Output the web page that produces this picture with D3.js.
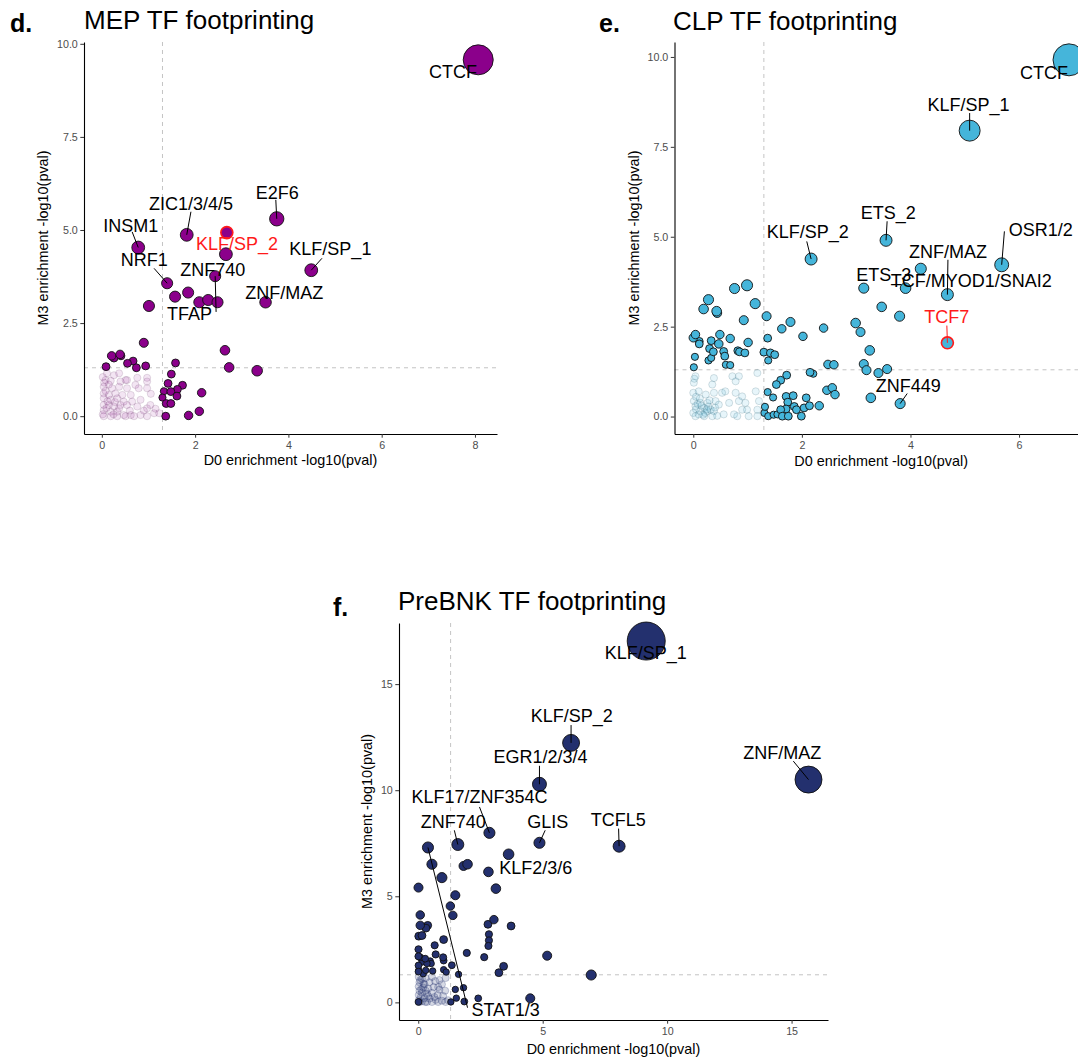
<!DOCTYPE html>
<html><head><meta charset="utf-8">
<script src="https://cdn.jsdelivr.net/npm/d3@7"></script>
<style>
body{margin:0;background:#fff;}
text{font-family:"Liberation Sans", Arial, Helvetica, sans-serif;}
</style>
</head><body>
<svg id="c" width="1078" height="1059"></svg>
<script>
// ---------------- DATA ----------------
const sigThreshold = 1.3;          // -log10(0.05)
const fadedScore = 5;

// MEP: [D0 -log10(p), M3 -log10(p), score]
const mepPoints = [
[8.07,9.57,88],[3.75,5.30,20],[1.82,4.87,16],[2.68,4.93,14],[2.66,4.35,16],[0.78,4.53,16],[4.49,3.92,16],[1.40,3.57,12],[2.43,3.76,12],[1.57,3.21,12],[1.85,3.32,12],[2.09,3.06,12],[2.28,3.12,12],[2.48,3.06,12],[3.51,3.06,13],[1.01,2.96,12],
[0.90,1.97,8],[2.64,1.77,9],[0.21,1.62,7],[0.26,1.56,6],[0.39,1.66,7],[0.41,1.62,6],[0.67,1.48,6],[0.55,1.42,6],[0.94,1.35,6],[0.74,1.30,6],[0.09,1.33,6],[1.58,1.43,6],[2.73,1.31,9],[3.33,1.22,11],[1.49,1.13,6],[1.42,0.88,6],[1.73,0.83,6],[1.62,0.72,6],[1.33,0.67,5],[1.48,0.66,6],[2.14,0.63,7],[1.30,0.50,5],[1.61,0.54,6],[1.38,0.34,6],[1.48,0.34,6],[2.09,0.13,7],[1.86,0.02,7],[1.37,0.00,6]
];
const mepFaded = [
[0.11,1.15],[0.26,1.10],[0.37,1.15],[0.54,0.97],[0.76,1.03],[0.97,1.03],[0.08,0.97],[0.19,0.95],[0.40,0.93],[0.51,0.97],[0.72,0.84],[0.97,0.93],
[0.04,0.79],[0.22,0.75],[0.37,0.79],[0.54,0.75],[0.79,0.75],[0.97,0.75],[0.04,0.61],[0.15,0.57],[0.29,0.61],[0.44,0.57],[0.62,0.57],
[0.04,0.48],[0.19,0.44],[0.33,0.48],[0.47,0.39],[0.65,0.39],[0.83,0.44],[1.04,0.30],[0.04,0.30],[0.15,0.30],[0.26,0.26],[0.37,0.21],[0.54,0.30],[0.76,0.26],[0.97,0.21],[1.12,0.08],
[0.04,0.16],[0.19,0.12],[0.33,0.12],[0.47,0.03],[0.62,0.03],[0.83,0.03],[0.97,0.00],[1.23,0.08],[0.04,0.00],[0.19,0.00],[0.33,0.00],[0.51,0.00],[0.69,0.00],
[0.02,0.05],[0.10,0.22],[0.12,0.40],[0.25,0.05],[0.08,0.68],[0.28,0.38],[0.15,0.85],[0.40,0.30],[0.05,0.90],[0.60,0.15],[0.02,1.05],[1.05,0.60],[0.90,0.15],[1.15,0.20]
];
const mepLabels = [["CTCF",8.07,9.57],["E2F6",3.75,5.30],["ZIC1/3/4/5",1.82,4.87],["INSM1",0.78,4.53],["KLF/SP_2",2.68,4.93],["KLF/SP_1",4.49,3.92],["NRF1",1.40,3.57],["ZNF740",2.48,3.06],["TFAP",2.43,3.76],["ZNF/MAZ",3.51,3.06]];
const mepHighlight = ["KLF/SP_2"];

// CLP
const clpPoints = [
[6.92,9.92,100],[5.09,7.95,43],[3.55,4.90,14],[2.17,4.38,14],[5.68,4.22,19],[4.68,3.39,14],[4.19,4.11,12],[3.91,3.57,11],[3.14,3.57,10],[4.68,2.05,14],[3.81,0.36,10],
[0.76,3.56,10],[0.99,3.65,12],[0.28,3.25,10],[0.19,2.99,9],[0.43,2.93,9],[0.44,2.88,8],[1.14,3.14,10],[0.93,2.68,8],[1.35,2.79,8],[1.79,2.63,8],[1.63,2.44,7],[2.40,2.46,7],[2.02,2.23,7],[1.37,2.18,6],[2.99,2.60,9],[3.08,2.35,8],[3.47,3.05,9],[3.80,2.79,10],[3.25,1.84,9],[3.14,1.46,8],[3.19,1.29,8],[3.41,1.21,8],[3.57,1.32,8],[3.27,0.52,9],
[2.48,1.45,7],[2.59,1.44,7],[2.15,1.23,6],[2.21,1.19,5],[2.46,0.73,7],[2.56,0.80,7],[2.61,0.61,7],[2.08,0.52,6],[1.72,1.15,6],[1.61,1.01,6],[1.53,0.89,6],[1.37,0.68,5],[1.47,0.53,5],[1.71,0.56,6],[1.84,0.58,6],[1.74,0.40,6],[1.86,0.28,6],[1.71,0.21,6],[1.61,0.19,6],[2.04,0.24,6],[2.14,0.30,6],[2.32,0.30,7],[1.90,0.19,6],[1.64,0.01,6],[1.75,0.01,6],[1.99,0.01,6],[1.31,0.10,5],[1.38,0.01,5],[1.48,0.05,5],[1.55,0.06,5],[1.32,0.27,5],
[0.00,2.19,7],[0.04,2.28,7],[0.11,2.09,6],[0.11,2.02,6],[0.33,2.11,6],[0.47,2.02,7],[0.49,2.28,7],[0.68,2.17,7],[1.01,2.06,7],[0.30,1.89,6],[0.37,1.80,6],[0.56,1.81,6],[0.58,1.68,6],[0.82,1.83,6],[0.85,1.80,6],[0.95,1.77,6],[0.03,1.66,5],[0.28,1.56,5],[0.33,1.63,5],[0.60,1.44,5],[0.68,1.43,5],[0.01,1.37,5],[1.30,1.79,6],[1.42,1.77,6],[1.50,1.72,6],[1.38,1.56,5]
];
const clpFaded = [
[0.04,1.12],[0.01,0.94],[0.38,1.07],[0.35,0.89],[0.72,1.12],[0.84,1.12],[0.78,0.98],[1.18,1.21],[0.00,0.66],[0.10,0.70],[0.23,0.61],[0.38,0.66],[0.53,0.66],[0.59,0.70],[0.78,0.66],[0.90,0.56],[1.15,0.70],
[0.01,0.43],[0.13,0.38],[0.26,0.38],[0.41,0.43],[0.04,0.29],[0.20,0.24],[0.32,0.19],[0.47,0.33],[0.84,0.43],[0.96,0.38],[0.00,0.10],[0.13,0.15],[0.26,0.15],[0.38,0.15],[0.66,0.38],[0.90,0.19],[0.99,0.19],[1.18,0.19],
[0.04,0.01],[0.20,0.01],[0.35,0.01],[0.56,0.06],[0.75,0.06],[1.02,0.01],[1.18,0.01],[0.10,0.06],[0.44,0.02],[0.81,0.01],[1.21,0.43],
[0.05,0.20],[0.15,0.30],[0.08,0.35],[0.22,0.10],[0.28,0.28],[0.12,0.50],[0.30,0.45],[0.18,0.05],[0.05,0.55],[0.25,0.20],[0.40,0.25],[0.02,1.05]
];
const clpLabels = [["CTCF",6.92,9.92],["KLF/SP_1",5.09,7.95],["ETS_2",3.55,4.90],["KLF/SP_2",2.17,4.38],["OSR1/2",5.68,4.22],["ZNF/MAZ",4.68,3.39],["ETS_3",3.14,3.57],["TCF/MYOD1/SNAI2",3.91,3.57],["TCF7",4.68,2.05],["ZNF449",3.81,0.36]];
const clpHighlight = ["TCF7"];

// PreBNK
const preBNKPoints = [
[9.16,17.03,141],[15.68,10.50,71],[6.14,12.23,28],[4.87,10.28,19],[8.07,7.36,14],[4.87,7.52,12],[2.86,7.99,12],[1.59,7.44,14],[0.39,7.30,12],
[0.55,6.51,10],[0.95,5.88,10],[0.01,5.41,8],[1.82,6.43,8],[1.98,6.51,9],[3.12,5.36,9],[3.63,6.98,11],[2.82,6.15,9],[1.49,5.05,8],[1.29,4.54,7],[1.39,4.10,7],[0.08,4.12,7],[0.08,3.63,7],[0.38,3.63,6],[0.31,3.50,6],[0.02,3.12,6],[0.15,3.15,6],
[3.04,3.90,7],[2.80,3.68,6],[3.73,3.60,6],[2.84,3.21,5],[2.84,2.92,5],[2.82,2.66,5],[1.02,2.96,6],[0.66,2.69,5],[0.01,2.50,5],[0.01,2.17,5],[0.08,2.12,4.5],[0.28,2.06,4.5],[0.70,2.26,5],[1.00,2.12,5],[1.02,1.97,4.5],
[0.48,1.95,4],[0.52,1.83,4],[0.15,1.90,4],[0.35,1.83,4],[0.01,1.74,4.5],[0.01,1.45,4.5],[0.20,1.35,4],[0.02,1.51,4],[0.30,1.51,4],[0.58,1.48,4],[1.02,1.54,4],[1.12,1.43,4],[1.35,1.75,4.5],[1.62,1.32,4],
[1.95,2.33,5],[2.65,2.13,5],[5.18,2.20,8],[3.43,1.70,6],[3.24,1.40,6],[6.95,1.29,10],[1.49,0.61,4],[1.82,0.69,4],[1.53,0.20,4],[1.85,0.04,4.5],[1.31,0.02,4],[2.41,0.19,4.5],[4.50,0.19,8],[0.01,0.02,4.5]
];
const preBNKFaded = [
[0.02,1.20],[0.15,1.10],[0.30,1.15],[0.55,1.20],[0.85,1.05],[1.10,1.15],[0.05,0.95],[0.25,0.85],[0.45,0.95],[0.68,1.00],[0.95,0.85],[0.02,0.75],[0.20,0.70],[0.40,0.65],[0.62,0.72],[0.85,0.60],[1.08,0.55],
[0.05,0.55],[0.15,0.45],[0.35,0.40],[0.55,0.45],[0.78,0.35],[1.00,0.30],[0.02,0.35],[0.10,0.25],[0.25,0.20],[0.45,0.18],[0.70,0.12],[0.95,0.08],[1.20,0.10],[0.02,0.10],[0.15,0.05],[0.35,0.02],[0.55,0.02],[0.80,0.02],[1.10,0.02],
[0.05,0.02],[0.28,0.02],[0.12,0.62],[0.30,0.55],[0.08,1.05],[0.40,0.30],[0.65,0.25],[0.21,0.88],[0.80,0.72]
];
const preBNKLabels = [["KLF/SP_1",9.16,17.03],["KLF/SP_2",6.14,12.23],["EGR1/2/3/4",4.87,10.28],["ZNF/MAZ",15.68,10.50],["KLF17/ZNF354C",2.86,7.99],["ZNF740",1.59,7.44],["GLIS",4.87,7.52],["TCFL5",8.07,7.36],["KLF2/3/6",2.82,6.15],["STAT1/3",0.39,7.30]];
const preBNKHighlight = [];

const xTicksMEP = [0,2,4,6,8], yTicksMEP = [0,2.5,5,7.5,10];
const xTicksCLP = [0,2,4,6],   yTicksCLP = [0,2.5,5,7.5,10];
const xTicksPre = [0,5,10,15], yTicksPre = [0,5,10,15];

// ---------- label placement (repelled text positions, data units: text centre, segment start) ----------
const mepLabelPos = {
 "CTCF":[7.53,9.25,null,null], "E2F6":[3.76,6.01,3.73,5.81], "ZIC1/3/4/5":[1.91,5.71,1.91,5.49],
 "INSM1":[0.62,5.11,0.65,4.95], "KLF/SP_2":[2.90,4.64,null,null], "KLF/SP_1":[4.90,4.49,4.72,4.24],
 "NRF1":[0.91,4.22,1.12,3.97], "ZNF740":[2.38,3.95,null,null], "TFAP":[1.88,2.75,2.45,2.80], "ZNF/MAZ":[3.91,3.32,null,null]
};
const clpLabelPos = {
 "CTCF":[6.46,9.58,null,null], "KLF/SP_1":[5.07,8.69,5.09,8.44], "ETS_2":[3.59,5.66,3.57,5.43],
 "KLF/SP_2":[2.11,5.15,2.09,4.87], "OSR1/2":[6.40,5.19,5.73,5.15], "ZNF/MAZ":[4.69,4.58,4.69,4.36],
 "ETS_3":[3.51,3.96,null,null], "TCF/MYOD1/SNAI2":[5.12,3.78,null,null], "TCF7":[4.67,2.79,4.67,2.53], "ZNF449":[3.96,0.87,3.94,0.64]
};
const preLabelPos = {
 "KLF/SP_1":[9.14,16.49,null,null], "KLF/SP_2":[6.17,13.50,6.14,13.07], "EGR1/2/3/4":[4.91,11.57,4.87,11.15],
 "ZNF/MAZ":[14.63,11.79,15.07,11.37], "KLF17/ZNF354C":[2.46,9.68,2.46,9.21], "ZNF740":[1.41,8.51,1.45,8.11],
 "GLIS":[5.20,8.54,5.10,8.11], "TCFL5":[8.04,8.63,8.05,8.19], "KLF2/3/6":[4.72,6.37,null,null], "STAT1/3":[3.51,-0.35,1.98,-0.25]
};

// ---------------- DRAWING ----------------
const svg = d3.select("#c");
const rScale = d3.scaleSqrt().domain([0,100]).range([0,16]);

function drawPanel(cfg){
  const allX = cfg.points.map(d=>d[0]).concat(cfg.faded.map(d=>d[0]));
  const allY = cfg.points.map(d=>d[1]).concat(cfg.faded.map(d=>d[1]));
  const ex = d3.extent(allX), ey = d3.extent(allY);
  const padX = (ex[1]-ex[0])*0.05, padY = (ey[1]-ey[0])*0.05;
  const x = d3.scaleLinear().domain([ex[0]-padX, ex[1]+padX]).range([cfg.left, cfg.right]);
  const y = d3.scaleLinear().domain([ey[0]-padY, ey[1]+padY]).range([cfg.bottom, cfg.top]);
  const g = svg.append("g");

  g.append("text").attr("x", cfg.letterX).attr("y", cfg.letterY).attr("font-size", 25).attr("font-weight","bold").attr("fill","#000").text(cfg.letter);
  g.append("text").attr("x", cfg.titleX).attr("y", cfg.titleY).attr("font-size", 26).attr("fill","#000").text(cfg.title);

  g.append("line").attr("x1", x(sigThreshold)).attr("x2", x(sigThreshold)).attr("y1", cfg.top).attr("y2", cfg.bottom)
    .attr("stroke","#c4c4c4").attr("stroke-width",1).attr("stroke-dasharray","4,4");
  g.append("line").attr("y1", y(sigThreshold)).attr("y2", y(sigThreshold)).attr("x1", cfg.left).attr("x2", cfg.right)
    .attr("stroke","#c4c4c4").attr("stroke-width",1).attr("stroke-dasharray","4,4");

  const gx = g.append("g").attr("transform", `translate(0,${cfg.bottom})`)
    .call(d3.axisBottom(x).tickValues(cfg.xTicks).tickFormat(d3.format("d")).tickSize(3.7).tickSizeOuter(0).tickPadding(4));
  const gy = g.append("g").attr("transform", `translate(${cfg.left},0)`)
    .call(d3.axisLeft(y).tickValues(cfg.yTicks).tickFormat(d3.format(cfg.yFmt)).tickSize(3.7).tickSizeOuter(0).tickPadding(2.5));
  [gx, gy].forEach(a=>{
    a.select(".domain").attr("stroke","#000").attr("stroke-width",1.1);
    a.selectAll(".tick line").attr("stroke","#333").attr("stroke-width",1);
    a.selectAll(".tick text").attr("fill","#4d4d4d").attr("font-size",10.7).attr("font-family",null);
  });
  let maxW = 0;
  gy.selectAll(".tick text").each(function(){ maxW = Math.max(maxW, this.getComputedTextLength()); });

  g.append("text").attr("x", (cfg.left+cfg.right)/2).attr("y", cfg.bottom + cfg.xTitleOff)
    .attr("text-anchor","middle").attr("font-size",14.4).attr("fill","#000").text("D0 enrichment -log10(pval)");
  const ytx = cfg.left - 3.7 - 2.5 - maxW - 8.5;
  g.append("text").attr("transform", `translate(${ytx},${(cfg.top+cfg.bottom)/2}) rotate(-90)`)
    .attr("text-anchor","middle").attr("font-size",14.4).attr("fill","#000").text("M3 enrichment -log10(pval)");

  g.append("g").selectAll("circle").data(cfg.faded).join("circle")
    .attr("cx", d=>x(d[0])).attr("cy", d=>y(d[1])).attr("r", rScale(fadedScore))
    .attr("fill", cfg.color).attr("fill-opacity", cfg.fadedOpacity)
    .attr("stroke", cfg.fadedStroke).attr("stroke-opacity", cfg.fadedStrokeOpacity).attr("stroke-width", 0.8);

  const hl = new Set(cfg.labels.filter(l=>cfg.highlight.includes(l[0])).map(l=>l[1]+","+l[2]));
  const pts = cfg.points.slice().sort((a,b)=>a[2]-b[2]);
  g.append("g").selectAll("circle").data(pts).join("circle")
    .attr("cx", d=>x(d[0])).attr("cy", d=>y(d[1])).attr("r", d=>rScale(d[2]))
    .attr("fill", cfg.color)
    .attr("stroke", d=> hl.has(d[0]+","+d[1]) ? "#ff1a1a" : "#111")
    .attr("stroke-width", d=> hl.has(d[0]+","+d[1]) ? 1.6 : 0.9);

  const lg = g.append("g");
  cfg.labels.forEach(l=>{
    const [name, px, py] = l;
    const p = cfg.labelPos[name];
    const red = cfg.highlight.includes(name);
    if (p[2] !== null) {
      lg.append("line").attr("x1", x(p[2])).attr("y1", y(p[3])).attr("x2", x(px)).attr("y2", y(py))
        .attr("stroke", red ? "#ff1a1a" : "#000").attr("stroke-width", 1);
    }
  });
  cfg.labels.forEach(l=>{
    const name = l[0];
    const p = cfg.labelPos[name];
    const red = cfg.highlight.includes(name);
    lg.append("text").attr("x", x(p[0])).attr("y", y(p[1])).attr("dy","0.36em")
      .attr("text-anchor","middle").attr("font-size",18).attr("fill", red ? "#ff1a1a" : "#000").text(name);
  });
}

drawPanel({letter:"d.", letterX:10, letterY:32, title:"MEP TF footprinting", titleX:84, titleY:29,
  left:84, right:497, top:42, bottom:434, xTitleOff:31,
  xTicks:xTicksMEP, yTicks:yTicksMEP, yFmt:".1f",
  color:"#8b008b", fadedStroke:"#5a2a5a", fadedOpacity:0.1, fadedStrokeOpacity:0.2,
  points:mepPoints, faded:mepFaded, labels:mepLabels, labelPos:mepLabelPos, highlight:mepHighlight});

drawPanel({letter:"e.", letterX:599, letterY:32, title:"CLP TF footprinting", titleX:673, titleY:30,
  left:674.5, right:1087.8, top:42, bottom:434, xTitleOff:32,
  xTicks:xTicksCLP, yTicks:yTicksCLP, yFmt:".1f",
  color:"#45b5da", fadedStroke:"#3a6a7a", fadedOpacity:0.13, fadedStrokeOpacity:0.25,
  points:clpPoints, faded:clpFaded, labels:clpLabels, labelPos:clpLabelPos, highlight:clpHighlight});

drawPanel({letter:"f.", letterX:333, letterY:616, title:"PreBNK TF footprinting", titleX:398, titleY:610,
  left:399, right:828, top:623, bottom:1020, xTitleOff:33.5,
  xTicks:xTicksPre, yTicks:yTicksPre, yFmt:"d",
  color:"#23306e", fadedStroke:"#23306e", fadedOpacity:0.18, fadedStrokeOpacity:0.3,
  points:preBNKPoints, faded:preBNKFaded, labels:preBNKLabels, labelPos:preLabelPos, highlight:preBNKHighlight});
</script>
</body></html>
